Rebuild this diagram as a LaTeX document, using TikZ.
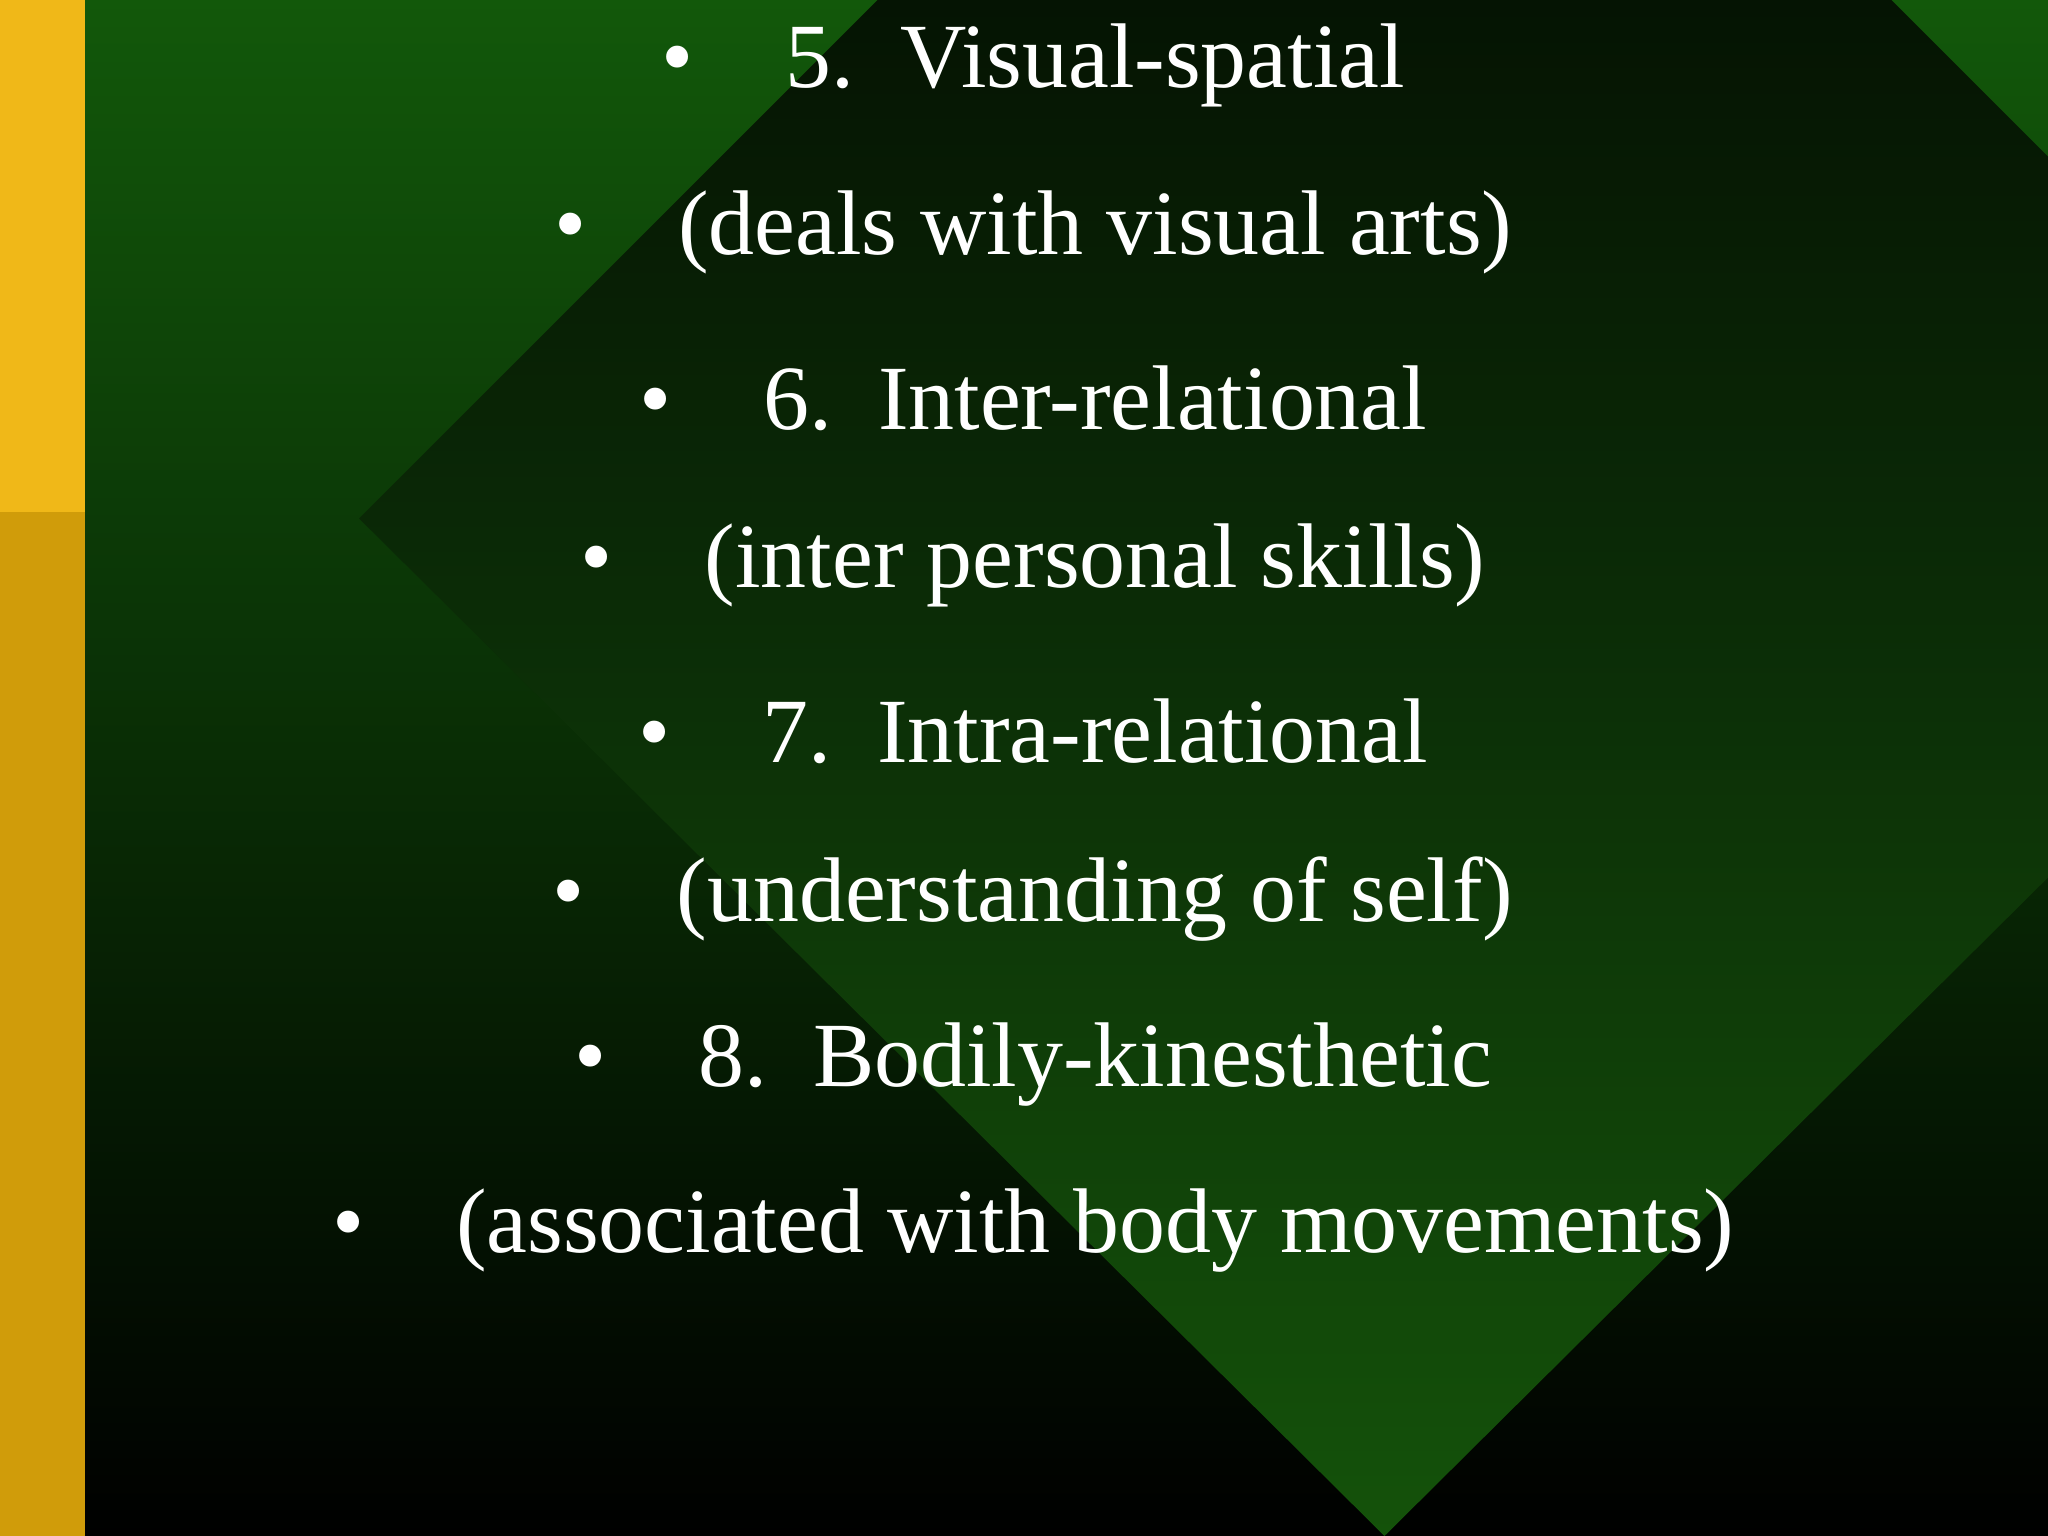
\documentclass[tikz,border=0pt]{standalone}
\usepackage{fontspec}
\setmainfont{Liberation Serif}
\definecolor{gtop}{RGB}{18,88,10}
\definecolor{dbot}{RGB}{20,82,10}
\definecolor{dmid}{RGB}{10,40,6}
\definecolor{yel1}{RGB}{240,184,24}
\definecolor{yel2}{RGB}{208,156,10}
\begin{document}
\begin{tikzpicture}[x=0.01cm,y=-0.01cm,
  item/.style={text=white,font=\fontsize{20}{24}\selectfont,anchor=center,inner sep=0pt}]
\useasboundingbox (0,0) rectangle (1568,1176);
\shade[top color=gtop,bottom color=black] (65,0) rectangle (1568,1176);
\begin{scope}
\clip (65,0) rectangle (1568,1176);
\shade[top color=black,bottom color=dbot,middle color=dmid] (275,397) -- (1060,-388) -- (1845,397) -- (1060,1176) -- cycle;
\end{scope}
\fill[yel1] (0,0) rectangle (65,392);
\fill[yel2] (0,392) rectangle (65,1176);
\node[item] (l1) at (791,50) {•\hspace{1em}5.\ \ Visual-spatial};
\node[item] (l2) at (791,178) {•\hspace{1em}(deals with visual arts)};
\node[item] (l3) at (791,305) {•\hspace{1em}6.\ \ Inter-relational};
\node[item] (l4) at (791,433) {•\hspace{1em}(inter personal skills)};
\node[item] (l5) at (791,560) {•\hspace{1em}7.\ \ Intra-relational};
\node[item] (l6) at (791,688) {•\hspace{1em}(understanding of self)};
\node[item] (l7) at (791,815) {•\hspace{1em}8.\ \ Bodily-kinesthetic};
\node[item] (l8) at (791,942) {•\hspace{1em}(associated with body movements)};
\end{tikzpicture}
\end{document}
